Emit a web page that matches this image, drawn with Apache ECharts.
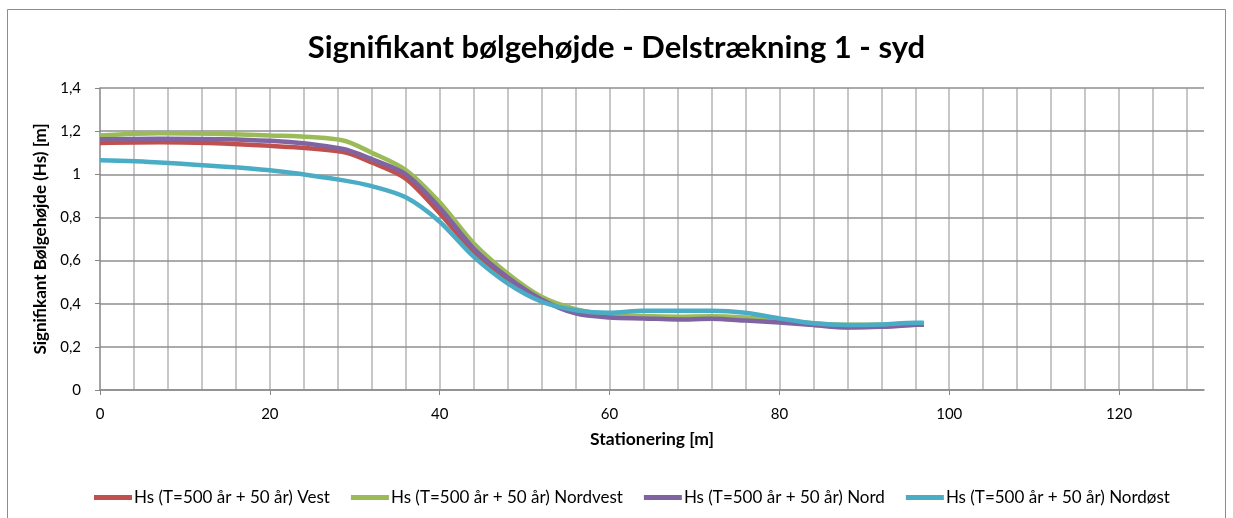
<!DOCTYPE html>
<html>
<head>
<meta charset="utf-8">
<title>Signifikant bølgehøjde - Delstrækning 1 - syd</title>
<script src="https://cdn.jsdelivr.net/npm/echarts@6/dist/echarts.min.js"></script>
<style>
  html, body { margin: 0; padding: 0; background: #fff; }
  #chart { width: 1233px; height: 518px; }
</style>
</head>
<body>
<div id="chart"></div>
<script>
// stationering [m]
const stations = [0, 7, 20, 28.5, 32, 36, 40, 44, 48, 52, 56, 60, 64, 68, 72, 76, 80, 84, 88, 92, 96, 97]

// Hs [m] pr. retning
const hsVest = [1.145, 1.148, 1.132, 1.104, 1.055, 0.98, 0.82, 0.64, 0.51, 0.417, 0.362, 0.34, 0.335, 0.33, 0.33, 0.328, 0.318, 0.303, 0.292, 0.294, 0.302, 0.303]
const hsNordvest = [1.18, 1.19, 1.18, 1.158, 1.1, 1.02, 0.87, 0.68, 0.54, 0.432, 0.375, 0.35, 0.343, 0.34, 0.342, 0.336, 0.324, 0.309, 0.302, 0.302, 0.31, 0.31]
const hsNord = [1.162, 1.165, 1.155, 1.118, 1.07, 1.0, 0.845, 0.656, 0.523, 0.42, 0.355, 0.336, 0.332, 0.327, 0.33, 0.322, 0.313, 0.301, 0.29, 0.293, 0.302, 0.303]
const hsNordoest = [1.065, 1.055, 1.019, 0.973, 0.945, 0.893, 0.78, 0.618, 0.494, 0.409, 0.37, 0.358, 0.367, 0.367, 0.367, 0.358, 0.332, 0.309, 0.301, 0.304, 0.312, 0.312]

const seriesNames = [
  'Hs (T=500 år + 50 år) Vest',
  'Hs (T=500 år + 50 år) Nordvest',
  'Hs (T=500 år + 50 år) Nord',
  'Hs (T=500 år + 50 år) Nordøst'
]
const seriesValues = [hsVest, hsNordvest, hsNord, hsNordoest]
const colors = ['#C0504D', '#9BBB59', '#8064A2', '#4BACC6']

const font = 'Lato, "Open Sans", sans-serif'
const chart = echarts.init(document.getElementById('chart'))

const option = {
  animation: false,
  color: colors,
  textStyle: { fontFamily: font },
  title: {
    text: 'Signifikant bølgehøjde - Delstrækning 1 - syd',
    left: 'center',
    top: 27,
    textStyle: { fontSize: 31, fontWeight: 'bold', color: '#000', fontFamily: font }
  },
  graphic: [
    {
      type: 'rect',
      shape: { x: 7.5, y: 9.5, width: 1218, height: 540 },
      style: { fill: 'none', stroke: '#8c8c8c', lineWidth: 1 },
      silent: true
    }
  ],
  legend: {
    top: 484,
    left: 89,
    icon: 'rect',
    itemWidth: 38,
    itemHeight: 5,
    itemGap: 21,
    textStyle: { fontSize: 17, color: '#000', padding: [0, 0, 0, -3] },
    data: seriesNames
  },
  grid: { left: 100, right: 29, top: 88, bottom: 128 },
  xAxis: [
    {
      type: 'value',
      min: 0,
      max: 130,
      interval: 20,
      name: 'Stationering [m]',
      nameLocation: 'middle',
      nameGap: 40,
      nameTextStyle: { fontSize: 17.5, fontWeight: 'bold', color: '#000' },
      axisLine: { lineStyle: { color: '#868686', width: 1.5 } },
      axisTick: { show: true, length: 5, lineStyle: { color: '#868686' } },
      axisLabel: { fontSize: 15, color: '#000', margin: 17, showMaxLabel: false },
      splitLine: { show: false }
    },
    {
      type: 'value',
      min: 0,
      max: 130,
      interval: 4,
      position: 'bottom',
      axisLine: { show: false },
      axisTick: { show: false },
      axisLabel: { show: false },
      splitLine: {
        show: true,
        showMinLine: false,
        showMaxLine: false,
        lineStyle: { color: '#b4b4b4', width: 1.5 }
      }
    }
  ],
  yAxis: {
    type: 'value',
    min: 0,
    max: 1.4,
    interval: 0.2,
    name: 'Signifikant Bølgehøjde (Hs) [m]',
    nameLocation: 'middle',
    nameGap: 48,
    nameTextStyle: { fontSize: 17, fontWeight: 'bold', color: '#000' },
    axisLine: { show: true, lineStyle: { color: '#868686', width: 1.5 } },
    axisTick: { show: true, length: 5, lineStyle: { color: '#868686' } },
    axisLabel: {
      fontSize: 15,
      color: '#000',
      margin: 19,
      formatter: (v) => String(Math.round(v * 10) / 10).replace('.', ',')
    },
    splitLine: { show: true, lineStyle: { color: '#8f8f8f', width: 1.5 } },
    z: 3
  },
  series: seriesNames.map((name, i) => ({
    name: name,
    type: 'line',
    xAxisIndex: 0,
    smooth: 0.3,
    symbol: 'none',
    lineStyle: { width: 4.5, color: colors[i] },
    itemStyle: { color: colors[i] },
    data: stations.map((x, k) => [x, seriesValues[i][k]]),
    z: 5
  }))
}

chart.setOption(option)
</script>
</body>
</html>
